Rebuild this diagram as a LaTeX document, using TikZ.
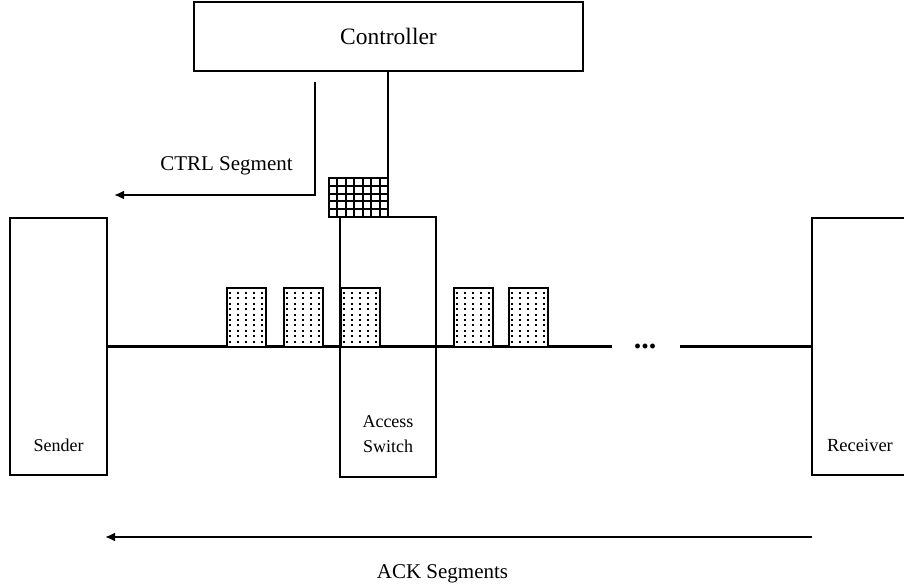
\documentclass[tikz,border=0pt]{standalone}
\usepackage{fontspec}
\setmainfont{Liberation Serif}
\usetikzlibrary{arrows.meta}
\begin{document}
\begin{tikzpicture}[x=1pt,y=-1pt,
  box/.style={draw,line width=2.2pt,rectangle,inner sep=0pt},
  conn/.style={line width=2.2pt},
  arr/.style={line width=2.2pt,-{Latex[length=10pt,width=9pt]}},
  lbl/.style={inner sep=0pt,anchor=base},
  pkt/.style={draw,line width=2.2pt,rectangle,inner sep=0pt,minimum width=39pt,minimum height=59pt,fill=white,anchor=north west},
  gridline/.style={line width=1.9pt}
]
\useasboundingbox (0,0) rectangle (904,588);
\clip (0,0) rectangle (904,588);
% Controller
\node[box,minimum width=389pt,minimum height=69pt] (ctrl) at (388.5,36.5) {};
\node[lbl,font=\fontsize{23.5}{28}\selectfont] (ctrltxt) at (388.5,45) {Controller};
% hosts
\node[box,minimum width=97pt,minimum height=257pt] (sender) at (58.5,346.5) {};
\node[lbl,font=\fontsize{18}{22}\selectfont] (sendertxt) at (58.5,451) {Sender};
\node[box,minimum width=96pt,minimum height=260pt] (switch) at (388,347) {};
\node[inner sep=0pt,align=center,font=\fontsize{18}{25}\selectfont] (switchtxt) at (388,434.5) {Access\\Switch};
\node[box,minimum width=100pt,minimum height=257pt] (receiver) at (862,346.5) {};
\node[lbl,font=\fontsize{18.5}{22}\selectfont] (receivertxt) at (860,451) {Receiver};
% grid buffer
\node[box,minimum width=59pt,minimum height=39pt] (grid) at (358.5,197.5) {};
\foreach \i in {1,...,6} \draw[gridline] (329+\i*8.43,178) -- (329+\i*8.43,217);
\foreach \j in {1,...,4} \draw[gridline] (329,178+\j*7.8) -- (388,178+\j*7.8);
% controller to switch
\draw[conn] (ctrl.south -| switch.north) -- (switch.north);
% CTRL segment
\coordinate (ca) at (315,82);
\coordinate (cb) at (315,195);
\coordinate (cc) at (114,195);
\draw[arr] (ca) -- (cb) -- (cc);
\node[lbl,font=\fontsize{21}{25}\selectfont] (ctrllbl) at (226.5,171) {CTRL Segment};
% data link
\coordinate (linkend) at (612,346.5);
\coordinate (linkstart) at (680,346.5);
\draw[conn] (sender.east) -- (linkend);
\node[inner sep=0pt,font=\fontsize{30}{30}\selectfont\bfseries] (dots) at (645,346.5) {...};
\draw[conn] (linkstart) -- (receiver.west);
% packets
\foreach \px/\n in {226/1,283/2,340/3,453/4,508/5}{
  \node[pkt] (p\n) at (\px,287) {};
  \foreach \r in {0,...,9}
    \foreach \c in {0,...,4}
      \fill (\px+3.2+\c*8,292+\r*5.4) rectangle +(1.9,1.9);
}
% ACK
\coordinate (ackR) at (812,537);
\coordinate (ackL) at (105,537);
\draw[arr] (ackR) -- (ackL);
\node[lbl,font=\fontsize{21}{25}\selectfont] (acklbl) at (442.5,578) {ACK Segments};
\end{tikzpicture}
\end{document}
